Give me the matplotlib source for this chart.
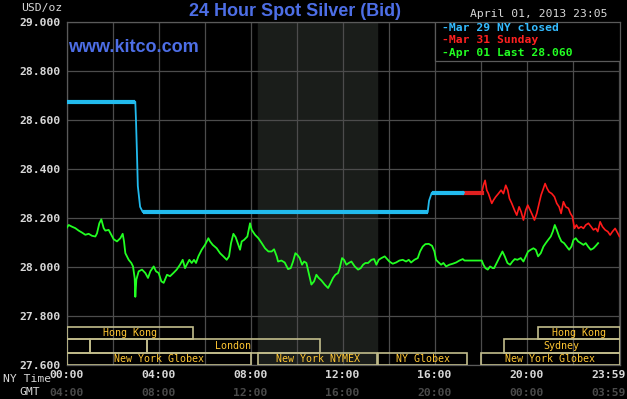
import matplotlib
matplotlib.use('Agg')
import matplotlib.pyplot as plt
import matplotlib.transforms as mtransforms
from matplotlib.patches import Rectangle

# Mar 29 NY closed (cyan)
cyan_h = [0, 2.99, 3.02, 3.07, 3.10, 3.20, 3.32, 15.70, 15.76, 15.88, 17.28]
cyan_v = [28.674, 28.674, 28.60, 28.44, 28.33, 28.245, 28.223, 28.223, 28.27, 28.303, 28.303]

# Mar 31 Sunday (red)
red_h = [17.28, 18.05, 18.123, 18.196, 18.268, 18.341, 18.413, 18.486, 18.558, 18.659, 18.775,
         18.891, 18.993, 19.094, 19.181, 19.254, 19.355, 19.471, 19.572, 19.674, 19.761, 19.862,
         19.964, 20.051, 20.152, 20.254, 20.341, 20.442, 20.543, 20.63, 20.732, 20.804, 20.891,
         20.978, 21.094, 21.21, 21.312, 21.413, 21.5, 21.601, 21.703, 21.819, 21.906, 21.993,
         22.08, 22.167, 22.254, 22.37, 22.471, 22.572, 22.688, 22.804, 22.906, 23.007, 23.094,
         23.196, 23.297, 23.413, 23.529, 23.63, 23.732, 23.848, 23.964, 24.036]
red_v = [28.302, 28.302, 28.333, 28.353, 28.313, 28.299, 28.279, 28.259, 28.272, 28.286, 28.299,
         28.313, 28.299, 28.333, 28.313, 28.279, 28.259, 28.232, 28.211, 28.245, 28.225, 28.191,
         28.232, 28.252, 28.232, 28.211, 28.191, 28.218, 28.259, 28.293, 28.320, 28.340, 28.320,
         28.306, 28.299, 28.286, 28.259, 28.245, 28.218, 28.266, 28.245, 28.239, 28.218, 28.205,
         28.157, 28.171, 28.157, 28.164, 28.157, 28.171, 28.178, 28.164, 28.151, 28.157, 28.144,
         28.184, 28.164, 28.151, 28.144, 28.130, 28.144, 28.157, 28.137, 28.124]

# Apr 01 (green)
green_h = [0.0, 0.094, 0.239, 0.384, 0.529, 0.674, 0.819, 0.963, 1.108, 1.253, 1.326, 1.427, 1.514,
           1.616, 1.688, 1.833, 1.949, 2.05, 2.195, 2.34, 2.442, 2.5, 2.558, 2.63, 2.703, 2.818,
           2.891, 2.963, 2.992, 3.036, 3.137, 3.282, 3.427, 3.543, 3.645, 3.79, 3.891, 4.007, 4.123,
           4.224, 4.369,
           4.5, 4.645, 4.79, 4.935, 5.051, 5.152, 5.225, 5.341, 5.442, 5.543, 5.63, 5.732, 5.877,
           6.022, 6.167, 6.239, 6.355, 6.529, 6.674, 6.819, 6.964, 7.065, 7.152, 7.254, 7.355,
           7.471, 7.543, 7.616, 7.717, 7.862, 7.935, 7.978, 8.051, 8.196, 8.341, 8.486, 8.63,
           8.775, 8.92, 9.022, 9.138,
           9.196, 9.341, 9.486, 9.63, 9.747, 9.848, 9.949, 10.036, 10.138, 10.239, 10.326, 10.428,
           10.529, 10.645, 10.761, 10.862, 10.964, 11.08, 11.225, 11.37, 11.486, 11.587, 11.688,
           11.804, 11.877, 11.978, 12.065, 12.167, 12.268, 12.384, 12.529, 12.674, 12.79, 12.891,
           12.993, 13.109, 13.254, 13.37, 13.471, 13.572, 13.688, 13.833,
           14.036, 14.181, 14.326, 14.471, 14.616, 14.761, 14.877, 14.978, 15.123, 15.268, 15.369,
           15.485, 15.601, 15.746, 15.891, 15.993, 16.065, 16.181, 16.283, 16.384, 16.5, 16.645,
           16.79, 16.935, 17.08, 17.225, 17.3, 18.05, 18.123, 18.21, 18.312, 18.413, 18.529,
           18.587, 18.732, 18.848, 18.949, 19.051, 19.167, 19.283, 19.384, 19.486, 19.601, 19.746,
           19.862, 19.964, 20.065, 20.181, 20.297, 20.399, 20.5, 20.616, 20.732, 20.833, 20.935,
           21.051, 21.138, 21.225, 21.312, 21.413, 21.514, 21.63, 21.746, 21.848, 21.949, 22.036,
           22.138, 22.239, 22.355, 22.471, 22.572, 22.674, 22.79, 22.906, 23.007, 23.109]
green_v = [28.158, 28.171, 28.164, 28.158, 28.148, 28.140, 28.131, 28.135, 28.127, 28.124, 28.137,
           28.178, 28.194, 28.158, 28.148, 28.151, 28.131, 28.113, 28.104, 28.117, 28.135, 28.104,
           28.056, 28.043, 28.029, 28.016, 28.002, 27.955, 27.878, 27.948, 27.982, 27.989, 27.975,
           27.955, 27.982, 28.002, 27.982, 27.975, 27.941, 27.935, 27.968,
           27.962, 27.975, 27.989, 28.009, 28.029, 27.995, 28.009, 28.029, 28.016, 28.029, 28.016,
           28.043, 28.070, 28.090, 28.117, 28.104, 28.090, 28.076, 28.056, 28.043, 28.029, 28.043,
           28.097, 28.135, 28.121, 28.090, 28.070, 28.104, 28.110, 28.124, 28.158, 28.178, 28.151,
           28.131, 28.117, 28.097, 28.076, 28.063, 28.063, 28.072, 28.043,
           28.022, 28.026, 28.018, 27.991, 27.995, 28.022, 28.056, 28.049, 28.036, 28.009, 28.022,
           28.016, 27.975, 27.928, 27.941, 27.968, 27.955, 27.945, 27.928, 27.914, 27.935, 27.955,
           27.968, 27.975, 27.995, 28.036, 28.029, 28.009, 28.016, 28.022, 28.002, 27.989, 27.995,
           28.009, 28.016, 28.016, 28.029, 28.032, 28.009, 28.029, 28.036, 28.043,
           28.022, 28.013, 28.018, 28.026, 28.029, 28.022, 28.029, 28.018, 28.029, 28.036, 28.063,
           28.083, 28.093, 28.094, 28.086, 28.063, 28.029, 28.018, 28.009, 28.016, 28.002, 28.009,
           28.013, 28.018, 28.026, 28.032, 28.026, 28.026, 28.009, 27.995, 27.989, 28.002, 27.995,
           27.995, 28.022, 28.043, 28.063, 28.043, 28.016, 28.009, 28.022, 28.032, 28.029, 28.036,
           28.022, 28.043, 28.063, 28.070, 28.076, 28.070, 28.043, 28.056, 28.083, 28.097, 28.110,
           28.124, 28.144, 28.171, 28.151, 28.124, 28.104, 28.097, 28.083, 28.070, 28.083, 28.110,
           28.117, 28.104, 28.097, 28.090, 28.097, 28.083, 28.070, 28.076, 28.086, 28.097]

# axis labels
ny_ticks = [0, 4, 8, 12, 16, 20, 23.57]
ny_labels = ['00:00', '04:00', '08:00', '12:00', '16:00', '20:00', '23:59']
gmt_labels = ['04:00', '08:00', '12:00', '16:00', '20:00', '00:00', '03:59']
y_ticks = [27.6, 27.8, 28.0, 28.2, 28.4, 28.6, 28.8, 29.0]

# trading sessions: (start hour, end hour, row, label)
sessions = [
    (0, 5.5, 0, 'Hong Kong'), (20.5, 24.06, 0, 'Hong Kong'),
    (0, 1.0, 1, ''), (1.0, 3.5, 1, ''), (3.5, 11.0, 1, 'London'), (19.0, 24.06, 1, 'Sydney'),
    (0, 8.0, 2, 'New York Globex'), (8.33, 13.5, 2, 'New York NYMEX'),
    (13.55, 17.4, 2, 'NY Globex'), (18.0, 24.06, 2, 'New York Globex'),
]
row_edges = [(27.706, 27.755), (27.649, 27.706), (27.6, 27.649)]

mono = 'DejaVu Sans Mono'
txt_col = '#d8d8d8'
grid_col = '#4c4c4c'
fs = 8.2

fig = plt.figure(figsize=(6.27, 3.99), dpi=100, facecolor='black')
ax = fig.add_axes([66.5 / 627, 1 - 365 / 399, 553.5 / 627, 343.3 / 399])
ax.set_facecolor('black')
ax.set_xlim(0, 24.06)
ax.set_ylim(27.6, 29.0)

# NYMEX pit hours shading
ax.axvspan(8.33, 13.5, color='#1a1d1a', zorder=0)

for h in range(0, 25, 2):
    ax.axvline(h, color=grid_col, lw=0.9, zorder=1)
for v in y_ticks:
    ax.axhline(v, color=grid_col, lw=0.9, zorder=1)

ax.set_xticks(ny_ticks)
ax.set_xticklabels(ny_labels)
ax.set_yticks(y_ticks)
ax.set_yticklabels([f'{v:.3f}' for v in y_ticks])
ax.tick_params(length=0, colors=txt_col, labelsize=fs)
ax.tick_params(axis='y', pad=4)
ax.tick_params(axis='x', pad=3.5)
for lab in ax.get_xticklabels() + ax.get_yticklabels():
    lab.set_fontfamily(mono)
    lab.set_fontweight('bold')
for sp in ax.spines.values():
    sp.set_color('#5a5a5a')
    sp.set_linewidth(0.9)

# series
ax.plot(green_h, green_v, color='#22ff22', lw=1.3, zorder=4)
ax.plot(red_h, red_v, color='#ff1a1a', lw=1.2, zorder=4)
ax.plot(red_h[:2], red_v[:2], color='#e02020', lw=3, zorder=4)
ax.plot(cyan_h, cyan_v, color='#22bbee', lw=1.3, zorder=5)
for a, b in [(0, 2), (6, 8), (9, 11)]:
    ax.plot(cyan_h[a:b], cyan_v[a:b], color='#22bbee', lw=3, zorder=5, solid_capstyle='butt')

# session boxes
for start, end, row, label in sessions:
    y0, y1 = row_edges[row]
    ax.add_patch(Rectangle((start, y0), end - start, y1 - y0, fill=False,
                           edgecolor='#c2bd8c', lw=1.2, zorder=3))
    if label:
        ax.text((start + end) / 2, (y0 + y1) / 2, label, ha='center', va='center',
                color='#ffc633', fontsize=7.2, family=mono, zorder=6)

# GMT row
trans = mtransforms.blended_transform_factory(ax.transData, ax.transAxes)
for h, lab in zip(ny_ticks, gmt_labels):
    ax.text(h, -0.0815, lab, transform=trans, ha='center', va='center', color='#4a4a4a',
            fontsize=fs, family=mono, fontweight='bold')
fig.text(3 / 627, 1 - 379 / 399, 'NY Time', color=txt_col, fontsize=fs, family=mono,
         ha='left', va='center')
fig.text(30 / 627, 1 - 392 / 399, 'GMT', color=txt_col, fontsize=fs, family=mono,
         ha='center', va='center')
fig.text(62 / 627, 1 - 8 / 399, 'USD/oz', color=txt_col, fontsize=fs, family=mono,
         ha='right', va='center')

# legend box
ax.add_patch(Rectangle((0.6657, 0.8855), 0.3343, 0.1145, transform=ax.transAxes,
                       facecolor='black', edgecolor='#5a5a5a', lw=0.9, zorder=7))
legend_items = [('-Mar 29 NY closed', '#33bbff'), ('-Mar 31 Sunday', '#ff2020'),
                ('-Apr 01 Last 28.060', '#22ff22')]
for i, (lab, col) in enumerate(legend_items):
    ax.text(0.678, 0.9817 - i * 0.0364, lab, transform=ax.transAxes, color=col,
            fontsize=fs, family=mono, fontweight='bold', ha='left', va='center', zorder=8)

# titles
fig.text(295 / 627, 1 - 12 / 399, '24 Hour Spot Silver (Bid)', color='#4d6ee6',
         fontsize=13, family='Liberation Sans', fontweight='bold', ha='center', va='center')
ax.text(68 / 627, 1 - 48 / 399, 'www.kitco.com', transform=fig.transFigure, color='#4d6ee6',
        fontsize=13, family='Liberation Sans', fontweight='bold', ha='left', va='center', zorder=8)
fig.text(608 / 627, 1 - 14 / 399, 'April 01, 2013 23:05', color=txt_col, fontsize=fs,
         family=mono, ha='right', va='center')

fig.savefig('out.png', dpi=100, facecolor='black')
